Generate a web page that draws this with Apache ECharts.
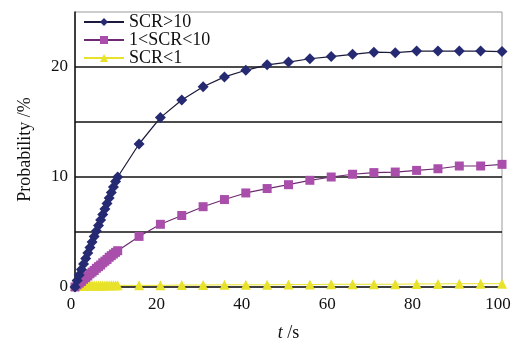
<!DOCTYPE html>
<html>
<head>
<meta charset="utf-8">
<script src="https://cdn.jsdelivr.net/npm/echarts@6/dist/echarts.min.js"></script>
<style>
  html, body { margin: 0; padding: 0; background: #fff; }
  #chart { width: 526px; height: 341px; }
</style>
</head>
<body>
<div id="chart"></div>
<script>
// time axis (s): dense sampling 0-10 s, then every 5 s
const times = [0, 0.5, 1, 1.5, 2, 2.5, 3, 3.5, 4, 4.5, 5, 5.5, 6, 6.5, 7, 7.5, 8, 8.5, 9, 9.5, 10,
  15, 20, 25, 30, 35, 40, 45, 50, 55, 60, 65, 70, 75, 80, 85, 90, 95, 100];

// probability (%)
const scrHigh = [0, 0.6, 1.1, 1.6, 2.1, 2.6, 3.1, 3.6, 4.1, 4.6, 5.1, 5.6, 6.1, 6.6, 7.1, 7.6, 8.1, 8.6, 9.1, 9.6, 10.0,
  13.0, 15.4, 17.0, 18.2, 19.1, 19.7, 20.2, 20.45, 20.75, 20.95, 21.15, 21.35, 21.3, 21.45, 21.45, 21.45, 21.45, 21.4];
const scrMid = [0, 0.2, 0.35, 0.5, 0.7, 0.85, 1.0, 1.2, 1.35, 1.5, 1.7, 1.85, 2.0, 2.2, 2.35, 2.5, 2.7, 2.85, 3.0, 3.15, 3.3,
  4.6, 5.7, 6.5, 7.3, 7.95, 8.55, 8.95, 9.3, 9.7, 10.0, 10.25, 10.4, 10.45, 10.6, 10.75, 11.0, 11.0, 11.15];
const scrLow = [0.1, 0.1, 0.1, 0.12, 0.12, 0.12, 0.12, 0.13, 0.13, 0.13, 0.13, 0.14, 0.14, 0.14, 0.14, 0.15, 0.15, 0.15, 0.15, 0.15, 0.15,
  0.15, 0.15, 0.18, 0.18, 0.2, 0.2, 0.2, 0.22, 0.22, 0.25, 0.25, 0.25, 0.25, 0.28, 0.28, 0.3, 0.3, 0.3];

const seriesNames = ['SCR>10', '1<SCR<10', 'SCR<1'];
const yLabels = [0, 10, 20];

const serif = '"Liberation Serif", "DejaVu Serif", serif';

const pairs = (vals) => times.map((t, i) => [t, vals[i]]);

const chart = echarts.init(document.getElementById('chart'));

const option = {
  animation: false,
  backgroundColor: '#fff',
  grid: {
    left: 75, right: 24, top: 12, bottom: 54,
    outerBoundsMode: 'none',
    containLabel: false,
    show: true,
    borderColor: '#9a9a9a',
    borderWidth: 1
  },
  legend: {
    orient: 'vertical',
    left: 78,
    top: 8,
    itemWidth: 40,
    itemHeight: 10,
    itemGap: 0,
    textStyle: { fontFamily: serif, fontSize: 18, color: '#111' },
    data: seriesNames
  },
  xAxis: {
    type: 'value',
    min: 0, max: 100, interval: 20,
    name: '{i|t} /s',
    nameLocation: 'middle',
    nameGap: 37,
    nameTextStyle: {
      fontFamily: serif, fontSize: 18, color: '#111',
      rich: { i: { fontFamily: serif, fontSize: 18, fontStyle: 'italic', color: '#111' } }
    },
    axisLine: { lineStyle: { color: '#111', width: 1.5 } },
    axisTick: { show: false },
    axisLabel: { fontFamily: serif, fontSize: 17, color: '#111', margin: 9, padding: [0, 8, 0, 0] },
    splitLine: { show: false }
  },
  yAxis: {
    type: 'value',
    min: 0, max: 25, interval: 5,
    name: 'Probability /%',
    nameLocation: 'middle',
    nameGap: 41,
    nameTextStyle: { fontFamily: serif, fontSize: 18, color: '#111' },
    axisLine: { show: true, lineStyle: { color: '#111', width: 1.5 } },
    axisTick: { show: false },
    axisLabel: {
      fontFamily: serif, fontSize: 17, color: '#111', margin: 7,
      formatter: (v) => (yLabels.includes(v) ? String(v) : '')
    },
    splitLine: { show: true, showMinLine: false, showMaxLine: false, lineStyle: { color: '#111', width: 1.5 } }
  },
  series: [
    {
      name: seriesNames[0], type: 'line', data: pairs(scrHigh),
      symbol: 'diamond', symbolSize: 11, z: 4,
      itemStyle: { color: '#262a72' },
      lineStyle: { color: '#1a1a3a', width: 1.2 }
    },
    {
      name: seriesNames[1], type: 'line', data: pairs(scrMid),
      symbol: 'rect', symbolSize: 9, z: 3,
      itemStyle: { color: '#a94fab' },
      lineStyle: { color: '#6e2a70', width: 1.2 }
    },
    {
      name: seriesNames[2], type: 'line', data: pairs(scrLow),
      symbol: 'triangle', symbolSize: 10, z: 2,
      itemStyle: { color: '#e8e22a' },
      lineStyle: { color: '#e8e22a', width: 1 }
    }
  ]
};

chart.setOption(option);
</script>
</body>
</html>
